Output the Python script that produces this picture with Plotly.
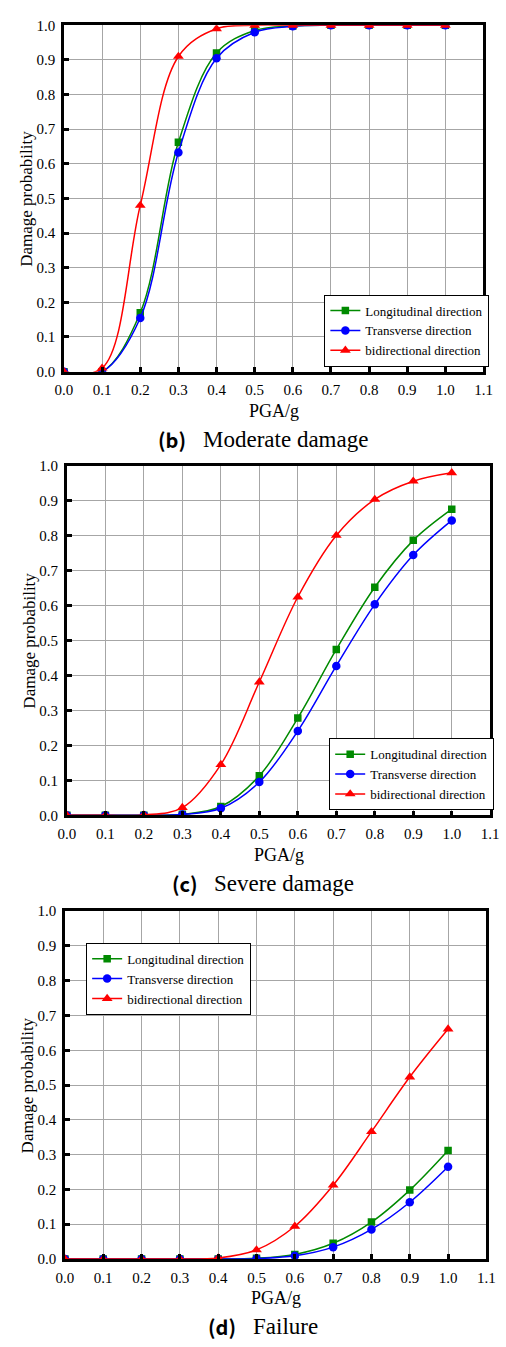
import plotly.graph_objects as go

# PGA levels (g)
pga = [0.0, 0.1, 0.2, 0.3, 0.4, 0.5, 0.6, 0.7, 0.8, 0.9, 1.0]

# (b) Moderate damage
mod_long = [0.0, 0.0, 0.170, 0.662, 0.920, 0.985, 0.998, 1.0, 1.0, 1.0, 1.0]
mod_trans = [0.0, 0.0, 0.155, 0.633, 0.905, 0.980, 0.997, 1.0, 1.0, 1.0, 1.0]
mod_bi = [0.0, 0.010, 0.480, 0.910, 0.990, 1.0, 1.0, 1.0, 1.0, 1.0, 1.0]

# (c) Severe damage
sev_long = [0.0, 0.0, 0.0, 0.003, 0.025, 0.113, 0.278, 0.474, 0.652, 0.786, 0.875]
sev_trans = [0.0, 0.0, 0.0, 0.002, 0.020, 0.095, 0.241, 0.427, 0.603, 0.744, 0.843]
sev_bi = [0.0, 0.0, 0.001, 0.022, 0.145, 0.381, 0.624, 0.800, 0.903, 0.955, 0.979]

# (d) Failure
fail_long = [0.0, 0.0, 0.0, 0.0, 0.0, 0.002, 0.013, 0.045, 0.106, 0.198, 0.312]
fail_trans = [0.0, 0.0, 0.0, 0.0, 0.0, 0.001, 0.009, 0.034, 0.085, 0.163, 0.265]
fail_bi = [0.0, 0.0, 0.0, 0.0, 0.003, 0.026, 0.094, 0.212, 0.366, 0.523, 0.661]

series_names = ["Longitudinal direction", "Transverse direction", "bidirectional direction"]
colors = ["#008a00", "#0000ff", "#ff0000"]
symbols = ["square", "circle", "triangle-up"]
msizes = [7.5, 8.5, 9.5]

x_ticks = [0.0, 0.1, 0.2, 0.3, 0.4, 0.5, 0.6, 0.7, 0.8, 0.9, 1.0, 1.1]
y_ticks = [0.0, 0.1, 0.2, 0.3, 0.4, 0.5, 0.6, 0.7, 0.8, 0.9, 1.0]

W, H = 506, 1347
SERIF = "Liberation Serif"


def px_x(v):
    return v / W


def px_y(v):
    return 1 - v / H


panels = [
    dict(data=[mod_long, mod_trans, mod_bi], xd=(57, 492), yd=(17.5, 368),
         legend=(327, 290), tag="(b)", caption="Moderate damage",
         tag_x=152, cap_x=199, cap_y=437, ytitle_x=18),
    dict(data=[sev_long, sev_trans, sev_bi], xd=(60, 499), yd=(463, 817),
         legend=(332, 739), tag="(c)", caption="Severe damage",
         tag_x=167, cap_x=211, cap_y=886, ytitle_x=21),
    dict(data=[fail_long, fail_trans, fail_bi], xd=(58, 495), yd=(914, 1266),
         legend=(80, 946), tag="(d)", caption="Failure",
         tag_x=204, cap_x=251, cap_y=1334, ytitle_x=19),
]

fig = go.Figure()
annotations = []
layout = {}

for i, p in enumerate(panels):
    n = i + 1
    xa = "x" if n == 1 else f"x{n}"
    ya = "y" if n == 1 else f"y{n}"
    leg = "legend" if n == 1 else f"legend{n}"
    for k in range(3):
        fig.add_trace(go.Scatter(
            x=pga, y=p["data"][k], name=series_names[k],
            mode="lines+markers", line=dict(color=colors[k], width=1.5, shape="spline"),
            marker=dict(symbol=symbols[k], size=msizes[k], color=colors[k]),
            xaxis=xa, yaxis=ya, legend=leg,
        ))

    axis_common = dict(
        showline=True, linecolor="black", linewidth=2.5, mirror=True,
        showgrid=True, gridcolor="#a6a6a6", gridwidth=1,
        ticks="inside", ticklen=5, tickwidth=2.5, tickcolor="black",
        ticklabelstandoff=3,
        tickfont=dict(family=SERIF, size=15, color="black"),
        zeroline=False,
    )
    layout["xaxis" if n == 1 else f"xaxis{n}"] = dict(
        axis_common, domain=[px_x(p["xd"][0]), px_x(p["xd"][1])],
        range=[0, 1.1], tickvals=x_ticks,
        ticktext=[f"{v:.1f}" for v in x_ticks], anchor=ya,
    )
    layout["yaxis" if n == 1 else f"yaxis{n}"] = dict(
        axis_common, domain=[px_y(p["yd"][1]), px_y(p["yd"][0])],
        range=[0, 1.0], tickvals=y_ticks,
        ticktext=[f"{v:.1f}" for v in y_ticks], anchor=xa,
    )
    layout[leg] = dict(
        x=px_x(p["legend"][0]), y=px_y(p["legend"][1]),
        xanchor="left", yanchor="top", xref="paper", yref="paper",
        bgcolor="white", bordercolor="black", borderwidth=1,
        font=dict(family=SERIF, size=13, color="black"),
        tracegroupgap=0, itemwidth=30,
    )

    xc = (p["xd"][0] + p["xd"][1]) / 2
    yc = (p["yd"][0] + p["yd"][1]) / 2
    annotations.append(dict(
        text="PGA/g", x=px_x(xc), y=px_y(p["yd"][1] + 40), xref="paper", yref="paper",
        showarrow=False, xanchor="center", yanchor="middle",
        font=dict(family=SERIF, size=18, color="black"),
    ))
    annotations.append(dict(
        text="Damage probability", x=px_x(p["ytitle_x"]), y=px_y(yc), xref="paper", yref="paper",
        showarrow=False, xanchor="center", yanchor="middle", textangle=-90,
        font=dict(family=SERIF, size=17, color="black"),
    ))
    annotations.append(dict(
        text=f"<b>{p['tag']}</b>", x=px_x(p["tag_x"]), y=px_y(p["cap_y"]), xref="paper", yref="paper",
        showarrow=False, xanchor="left", yanchor="middle",
        font=dict(family="Noto Sans CJK SC", size=20, color="black"),
    ))
    annotations.append(dict(
        text=p["caption"], x=px_x(p["cap_x"]), y=px_y(p["cap_y"]), xref="paper", yref="paper",
        showarrow=False, xanchor="left", yanchor="middle",
        font=dict(family=SERIF, size=23, color="black"),
    ))

fig.update_layout(
    width=W, height=H, margin=dict(l=0, r=0, t=0, b=0),
    paper_bgcolor="white", plot_bgcolor="white",
    showlegend=True, annotations=annotations, **layout,
)

fig.write_html("out.html")
